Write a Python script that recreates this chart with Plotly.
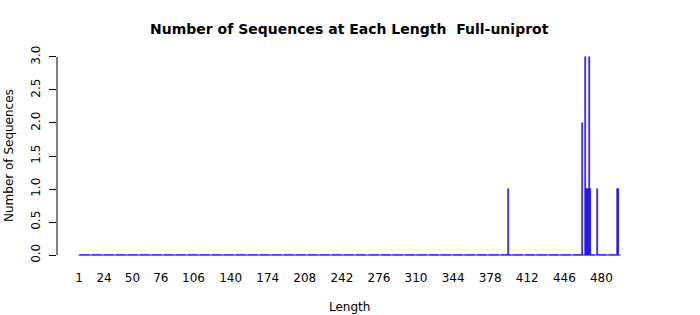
import plotly.graph_objects as go

# ---- data ----
max_length = 497                      # last length category on the axis
nonzero_lengths = [395, 463, 465, 466, 467, 468, 469, 470, 476, 495, 496]
nonzero_counts  = [1,   2,   3,   1,   1,   1,   3,   1,   1,   1,   1]
tick_labels = [1, 24, 50, 76, 106, 140, 174, 208, 242, 276, 310, 344, 378, 412, 446, 480]
y_ticks = [0.0, 0.5, 1.0, 1.5, 2.0, 2.5, 3.0]

lengths = list(range(1, max_length + 1))
count_map = dict(zip(nonzero_lengths, nonzero_counts))
counts = [count_map.get(l, 0) for l in lengths]

BAR = "#2010e0"
FONT = "DejaVu Sans"

fig = go.Figure()
fig.add_trace(go.Bar(
    x=lengths, y=counts, width=1 / 1.2,
    marker=dict(color=BAR, line=dict(color=BAR, width=0.6)),
    hoverinfo="x+y", showlegend=False,
))
# zero-height bar borders form a baseline in the original
fig.add_trace(go.Scatter(
    x=[lengths[0] - 0.5, lengths[-1] + 0.5], y=[0, 0], mode="lines",
    line=dict(color=BAR, width=1), hoverinfo="skip", showlegend=False,
))

fig.update_layout(
    width=700, height=315,
    margin=dict(l=57, r=58, t=49, b=52),
    paper_bgcolor="white", plot_bgcolor="white",
    font=dict(family=FONT, size=12, color="black"),
    bargap=0,
    xaxis=dict(
        range=[-19.2, 517.2], tickmode="array", tickvals=tick_labels,
        ticktext=[str(t) for t in tick_labels], ticks="", showline=False,
        showgrid=False, zeroline=False, ticklabelstandoff=6,
        tickfont=dict(family=FONT, size=12, color="black"),
    ),
    yaxis=dict(
        range=[-0.12, 3.12], tickmode="array", tickvals=y_ticks,
        ticktext=[f"{v:.1f}" for v in y_ticks], ticks="outside", ticklen=7,
        tickcolor="black", tickwidth=1, tickangle=-90, showline=False,
        showgrid=False, zeroline=False, ticklabelstandoff=4,
        tickfont=dict(family=FONT, size=12, color="black"),
    ),
    shapes=[dict(type="line", xref="paper", x0=0, x1=0, yref="y",
                 y0=y_ticks[0], y1=y_ticks[-1], line=dict(color="black", width=1))],
    annotations=[
        dict(text="<b>Number of Sequences at Each Length  Full-uniprot</b>",
             xref="paper", yref="paper", x=0.5, y=1, yshift=20, yanchor="middle",
             xanchor="center", showarrow=False,
             font=dict(family=FONT, size=14, color="black")),
        dict(text="Length", xref="paper", yref="paper", x=0.5, y=0, yshift=-44,
             yanchor="middle", xanchor="center",
             showarrow=False, font=dict(family=FONT, size=12, color="black")),
        dict(text="Number of Sequences", xref="paper", yref="paper", x=0, y=0.5,
             xshift=-48, xanchor="center", yanchor="middle", textangle=-90,
             showarrow=False, font=dict(family=FONT, size=12, color="black")),
    ],
)

fig.write_html("out.html")
